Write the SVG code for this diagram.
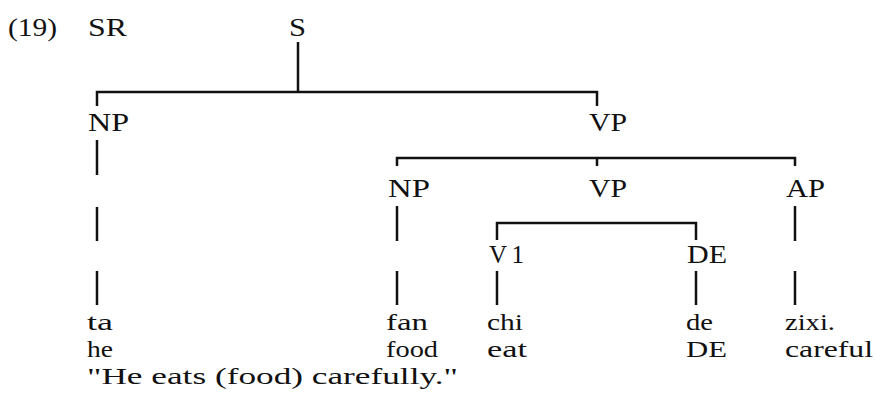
<svg xmlns="http://www.w3.org/2000/svg" width="875" height="398" viewBox="0 0 875 398">
<style>
.lbl{font-family:"Liberation Serif","DejaVu Serif",serif;font-size:25px;fill:#111}
.wd{font-family:"Liberation Serif","DejaVu Serif",serif;font-size:24px;fill:#111}
.ln{stroke:#111;stroke-width:2.5;fill:none}
</style>
<rect width="875" height="398" fill="#fff"/>
<g id="example-number"><text class="lbl" x="8" y="36" textLength="49" lengthAdjust="spacingAndGlyphs">(19)</text></g>
<g id="SR"><text class="lbl" x="88" y="36" textLength="39" lengthAdjust="spacingAndGlyphs">SR</text></g>
<g id="S"><text class="lbl" x="289" y="36" textLength="17" lengthAdjust="spacingAndGlyphs">S</text></g>
<g id="NP1"><text class="lbl" x="88" y="131" textLength="41" lengthAdjust="spacingAndGlyphs">NP</text></g>
<g id="VP1"><text class="lbl" x="589" y="131" textLength="38" lengthAdjust="spacingAndGlyphs">VP</text></g>
<g id="NP2"><text class="lbl" x="388" y="197" textLength="42" lengthAdjust="spacingAndGlyphs">NP</text></g>
<g id="VP2"><text class="lbl" x="589" y="197" textLength="38" lengthAdjust="spacingAndGlyphs">VP</text></g>
<g id="AP"><text class="lbl" x="786" y="197" textLength="39" lengthAdjust="spacingAndGlyphs">AP</text></g>
<g id="V1"><text class="lbl" x="489" y="263" textLength="35" lengthAdjust="spacing">V1</text></g>
<g id="DE"><text class="lbl" x="687" y="263" textLength="40" lengthAdjust="spacingAndGlyphs">DE</text></g>
<g id="ta"><text class="wd" x="87" y="330" textLength="26" lengthAdjust="spacingAndGlyphs">ta</text><text class="wd" x="87" y="357" textLength="26" lengthAdjust="spacingAndGlyphs">he</text></g>
<g id="fan"><text class="wd" x="386" y="330" textLength="42" lengthAdjust="spacingAndGlyphs">fan</text><text class="wd" x="386" y="357" textLength="52" lengthAdjust="spacingAndGlyphs">food</text></g>
<g id="chi"><text class="wd" x="487" y="330" textLength="36" lengthAdjust="spacingAndGlyphs">chi</text><text class="wd" x="487" y="357" textLength="40" lengthAdjust="spacingAndGlyphs">eat</text></g>
<g id="de"><text class="wd" x="686" y="330" textLength="27" lengthAdjust="spacingAndGlyphs">de</text><text class="wd" x="686" y="357" textLength="41" lengthAdjust="spacingAndGlyphs">DE</text></g>
<g id="zixi"><text class="wd" x="785" y="330" textLength="50" lengthAdjust="spacingAndGlyphs">zixi.</text><text class="wd" x="785" y="357" textLength="88" lengthAdjust="spacingAndGlyphs">careful</text></g>
<g id="translation"><text class="wd" x="87" y="384" textLength="371" lengthAdjust="spacingAndGlyphs">"He eats (food) carefully."</text></g>
<g id="connectors">
<path class="ln" d="M298 42V92M97 106V92H597V106"/>
<path class="ln" d="M97 140V175M97 207V241M97 271V305"/>
<path class="ln" d="M397 166V158H795V166M597 158V166"/>
<path class="ln" d="M397 206V241M397 271V305M795 206V241M795 271V305"/>
<path class="ln" d="M497 240V223H696V240"/>
<path class="ln" d="M497 271V305M696 271V305"/>
</g>
</svg>
